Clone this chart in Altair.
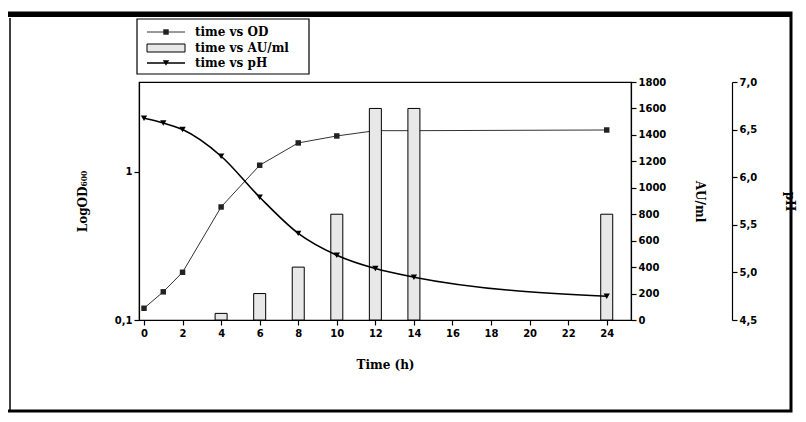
import altair as alt
import pandas as pd

# ---- data ----
od_time = [0, 1, 2, 4, 6, 8, 10, 12, 14, 24]
od_value = [0.12, 0.155, 0.21, 0.58, 1.11, 1.57, 1.75, 1.9, 1.9, 1.92]

au_time = [4, 6, 8, 10, 12, 14, 24]
au_value = [50, 200, 400, 800, 1600, 1600, 800]

ph_time = [0, 1, 2, 4, 6, 8, 10, 12, 14, 24]
ph_value = [6.62, 6.57, 6.50, 6.22, 5.79, 5.41, 5.18, 5.04, 4.95, 4.75]

x_ticks = [0, 2, 4, 6, 8, 10, 12, 14, 16, 18, 20, 22, 24]
od_ticks = [0.1, 1]
au_ticks = [0, 200, 400, 600, 800, 1000, 1200, 1400, 1600, 1800]
ph_ticks = [4.5, 5.0, 5.5, 6.0, 6.5, 7.0]

legend_labels = ["time vs OD", "time vs AU/ml", "time vs pH"]

od_df = pd.DataFrame({"time": od_time, "od": od_value})
au_df = pd.DataFrame({"time": au_time, "au": au_value})
ph_df = pd.DataFrame({"time": ph_time, "ph": ph_value})
one = pd.DataFrame({"a": [0]})

W, H = 492, 238
SERIF = "DejaVu Serif"

xenc = alt.X("time:Q", scale=alt.Scale(domain=[0, 25], nice=False),
             axis=alt.Axis(values=x_ticks, title="Time (h)", titlePadding=21,
                           labelPadding=3))

# OD layer (log scale, left axis)
od_y = alt.Y("od:Q",
             scale=alt.Scale(type="log", domain=[0.1, 4.05], nice=False),
             axis=alt.Axis(orient="left", values=od_ticks,
                           labelExpr="datum.value < 0.5 ? '0,1' : '1'",
                           title="LogOD₆₀₀", titlePadding=25))
od_base = alt.Chart(od_df).encode(x=xenc, y=od_y)
od_layer = alt.layer(
    od_base.mark_line(color="#333333", strokeWidth=1),
    od_base.mark_point(shape="square", filled=True, color="#222222", size=30, opacity=1),
)

# AU bars (right axis)
au_layer = alt.Chart(au_df).mark_bar(size=12, fill="#e8e8e8", stroke="black",
                                     strokeWidth=1).encode(
    x=xenc,
    y=alt.Y("au:Q", scale=alt.Scale(domain=[0, 1800], nice=False),
            axis=alt.Axis(orient="right", values=au_ticks, format="d",
                          title="AU/ml", titlePadding=27)),
)

# pH layer (offset right axis)
ph_y = alt.Y("ph:Q", scale=alt.Scale(domain=[4.5, 7.0], nice=False),
             axis=alt.Axis(orient="right", offset=101, values=ph_ticks,
                           labelExpr="replace(format(datum.value, '.1f'), '.', ',')",
                           title="pH", titlePadding=26))
ph_base = alt.Chart(ph_df).encode(x=xenc, y=ph_y)
ph_layer = alt.layer(
    ph_base.mark_line(color="black", strokeWidth=1.6, interpolate="monotone"),
    ph_base.mark_point(shape="triangle-down", filled=True, color="black", size=40, opacity=1),
)

# outer frame
frame = alt.Chart(one).mark_rect(fill=None, stroke="black", strokeWidth=3).encode(
    x=alt.value(-134), x2=alt.value(652), y=alt.value(-69), y2=alt.value(329))
frame_top = alt.Chart(one).mark_rule(stroke="black", strokeWidth=4).encode(
    x=alt.value(-134), x2=alt.value(652), y=alt.value(-67))
frame_inner = alt.Chart(one).mark_rule(stroke="black", strokeWidth=1.5).encode(
    x=alt.value(-129), y=alt.value(-64), y2=alt.value(329))

# legend
leg_box = alt.Chart(one).mark_rect(fill="white", stroke="black", strokeWidth=1.2).encode(
    x=alt.value(-2), x2=alt.value(170), y=alt.value(-63), y2=alt.value(-8))
leg_layers = [leg_box]
ys = [-50, -34, -19]
for i, lab in enumerate(legend_labels):
    y = ys[i]
    if i == 0:
        leg_layers.append(alt.Chart(one).mark_rule(color="#333333", strokeWidth=1).encode(
            x=alt.value(8), x2=alt.value(46), y=alt.value(y)))
        leg_layers.append(alt.Chart(one).mark_point(shape="square", filled=True,
                                                    color="#222222", size=30, opacity=1).encode(
            x=alt.value(27), y=alt.value(y)))
    elif i == 1:
        leg_layers.append(alt.Chart(one).mark_rect(fill="#e8e8e8", stroke="black",
                                                   strokeWidth=1).encode(
            x=alt.value(8), x2=alt.value(46), y=alt.value(y - 4), y2=alt.value(y + 4)))
    else:
        leg_layers.append(alt.Chart(one).mark_rule(color="black", strokeWidth=1.6).encode(
            x=alt.value(8), x2=alt.value(46), y=alt.value(y)))
        leg_layers.append(alt.Chart(one).mark_point(shape="triangle-down", filled=True,
                                                    color="black", size=40, opacity=1).encode(
            x=alt.value(27), y=alt.value(y)))
    leg_layers.append(alt.Chart(one).mark_text(
        text=lab, align="left", baseline="middle", font=SERIF,
        fontWeight="bold", fontSize=12, color="black").encode(
        x=alt.value(56), y=alt.value(y)))

chart = alt.layer(
    od_layer, au_layer, ph_layer, frame, frame_top, frame_inner, *leg_layers
).resolve_scale(y="independent").properties(
    width=W, height=H,
    autosize=alt.AutoSizeParams(type="none"),
    padding={"left": 131, "top": 74, "right": 167, "bottom": 94},
).configure_view(stroke="black", strokeWidth=1.2).configure_axis(
    grid=False, domainColor="black", tickColor="black", labelColor="black",
    titleColor="black", labelFont="DejaVu Sans", labelFontWeight="bold",
    labelFontSize=10, titleFont=SERIF, titleFontWeight="bold",
    titleFontSize=12, tickSize=5, domainWidth=1.2, tickWidth=1.2,
)

chart.save("out.html", embed_options={"renderer": "svg", "actions": False})
